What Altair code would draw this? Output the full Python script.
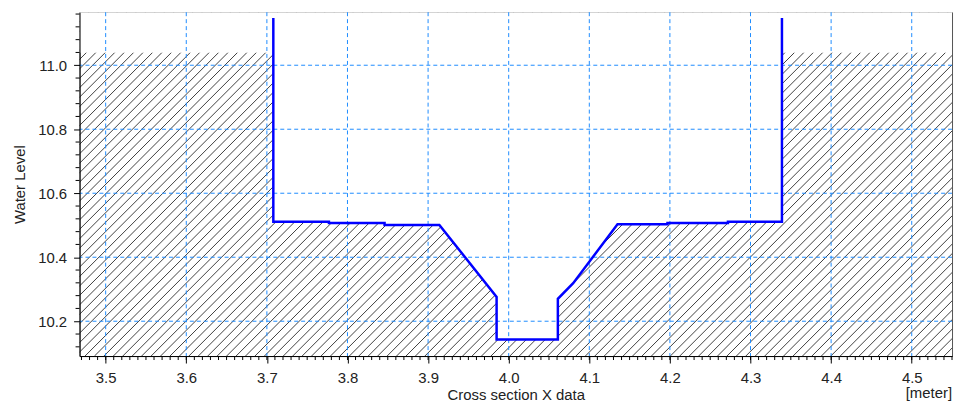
import altair as alt
import pandas as pd
import numpy as np

# ---- data ----
# channel bed / cross-section line (blue)
profile_x = [3.708, 3.708, 3.777, 3.777, 3.846, 3.846, 3.914, 3.985, 3.985, 4.061, 4.061,
             4.080, 4.135, 4.197, 4.197, 4.272, 4.272, 4.339, 4.339]
profile_y = [11.148, 10.511, 10.511, 10.507, 10.507, 10.501, 10.501, 10.276, 10.143, 10.143,
             10.270, 10.319, 10.503, 10.503, 10.507, 10.507, 10.511, 10.511, 11.148]
bank_level = 11.04

# axis ranges and ticks
x_range = [3.4676, 4.55]
y_range = [10.0912, 11.1657]
x_major = [3.5, 3.6, 3.7, 3.8, 3.9, 4.0, 4.1, 4.2, 4.3, 4.4, 4.5]
y_major = [10.2, 10.4, 10.6, 10.8, 11.0]
x_minor = [round(3.47 + 0.01 * i, 2) for i in range(109)]
y_minor = [10.12, 10.16, 10.24, 10.28, 10.32, 10.36, 10.44, 10.48, 10.52, 10.56,
           10.64, 10.68, 10.72, 10.76, 10.84, 10.88, 10.92, 10.96, 11.04, 11.08, 11.12, 11.16]

W, H = 878, 346
FONT = "Liberation Sans"
GRID_COLOR = "#1e8cff"

# ground (hatched) outline: banks at bank_level, then the channel bed
ground_x = [x_range[0], profile_x[0]] + profile_x[1:-1] + [profile_x[-1], x_range[1]]
ground_y = [bank_level, bank_level] + profile_y[1:-1] + [bank_level, bank_level]

prof = pd.DataFrame({"x": profile_x, "y": profile_y, "i": range(len(profile_x))})

# white "sky" polygon above the ground: ground outline, then back along the top edge
sky_x = ground_x + [x_range[1], x_range[0]]
sky_y = ground_y + [y_range[1], y_range[1]]
sky = pd.DataFrame({"x": sky_x, "y": sky_y, "i": range(len(sky_x))})

# hatch texture (45 degree strokes, ~9.5 px apart)
px_per_x = W / (x_range[1] - x_range[0])
step = 9.5 / px_per_x
run = H / px_per_x
starts = np.arange(x_range[0] - run, x_range[1] + step, step)
hatch = pd.DataFrame({"x0": starts, "x1": starts + run,
                      "y0": y_range[0], "y1": y_range[1]})

xs = alt.Scale(domain=x_range, nice=False, zero=False)
ys = alt.Scale(domain=y_range, nice=False, zero=False)

hatch_layer = alt.Chart(hatch).mark_rule(clip=True, color="#2b2b2b", strokeWidth=0.9).encode(
    x=alt.X("x0:Q", scale=xs,
            axis=alt.Axis(values=x_major, format=".1f", grid=False, tickSize=7,
                          tickColor="black", domainColor="black", labelFont=FONT,
                          labelFontSize=15, labelColor="#222", labelPadding=8,
                          title="Cross section X data", titleFont=FONT, titleFontSize=15,
                          titleFontWeight="normal", titleColor="#222", titlePadding=2,
                          zindex=1)),
    x2="x1:Q",
    y=alt.Y("y0:Q", scale=ys,
            axis=alt.Axis(values=y_major, format=".1f", grid=False, tickSize=6,
                          tickColor="black", domainColor="black", labelFont=FONT,
                          labelFontSize=15, labelColor="#222", labelPadding=7,
                          title="Water Level", titleFont=FONT, titleFontSize=15,
                          titleFontWeight="normal", titleColor="#222", titlePadding=10,
                          zindex=1)),
    y2="y1:Q",
)

# closed polygon drawn as a filled line (path in data order)
mask = alt.Chart(sky).mark_line(clip=True, fill="white", stroke="white", strokeWidth=0.5,
                                filled=True, interpolate="linear-closed").encode(
    x=alt.X("x:Q", scale=xs), y=alt.Y("y:Q", scale=ys), order=alt.Order("i:Q"),
)

gx = alt.Chart(pd.DataFrame({"v": x_major})).mark_rule(
    color=GRID_COLOR, strokeDash=[4, 3], strokeWidth=1).encode(x=alt.X("v:Q", scale=xs))
gy = alt.Chart(pd.DataFrame({"v": y_major})).mark_rule(
    color=GRID_COLOR, strokeDash=[4, 3], strokeWidth=1).encode(y=alt.Y("v:Q", scale=ys))

line = alt.Chart(prof).mark_line(color="#0000ff", strokeWidth=2.5, clip=True).encode(
    x=alt.X("x:Q", scale=xs), y=alt.Y("y:Q", scale=ys), order=alt.Order("i:Q"),
)

mx = alt.Chart(pd.DataFrame({"v": x_minor})).mark_rule(color="black", strokeWidth=1).encode(
    x=alt.X("v:Q", scale=xs), y=alt.value(H), y2=alt.value(H + 4))
my = alt.Chart(pd.DataFrame({"v": y_minor})).mark_rule(color="black", strokeWidth=1).encode(
    y=alt.Y("v:Q", scale=ys), x=alt.value(-4), x2=alt.value(0))

unit = alt.Chart(pd.DataFrame({"t": ["[meter]"]})).mark_text(
    align="right", baseline="alphabetic", font=FONT, fontSize=15, color="#222").encode(
    text="t:N", x=alt.value(W), y=alt.value(388))

chart = alt.layer(hatch_layer, mask, gx, gy, line, mx, my, unit).properties(
    width=W, height=H,
    autosize=alt.AutoSizeParams(type="none"),
    padding={"left": 72, "top": 3, "right": 4, "bottom": 46},
).configure_view(stroke="#555", strokeWidth=1, fill="white")

chart.save("out.html", embed_options={"renderer": "svg", "actions": False})
